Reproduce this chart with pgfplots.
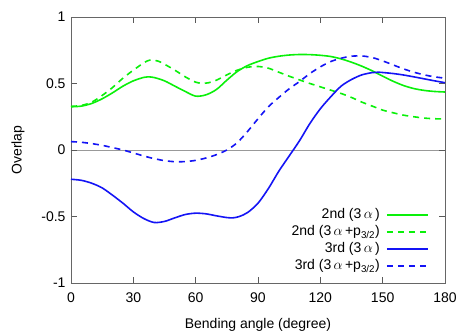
\documentclass[border=0pt]{standalone}
\usepackage{pgfplots}
\pgfplotsset{compat=1.18}
\usepackage{fontspec}
\setmainfont{Liberation Sans}
\definecolor{gg}{RGB}{10,240,10}
\definecolor{bb}{RGB}{20,20,245}
\begin{document}
\begin{tikzpicture}
\begin{axis}[
  scale only axis, width=374pt, height=266pt,
  xmin=0, xmax=180, ymin=-1, ymax=1,
  xtick={0,30,60,90,120,150,180},
  xticklabels={0,30,60,90,120,150,180},
  ytick={-1,-0.5,0,0.5,1},
  yticklabels={-1,-0.5,0,0.5,1},
  extra y ticks={0}, extra y tick labels={},
  extra y tick style={grid=major, major grid style={black!40, line width=0.9pt}},
  tick align=inside, major tick length=6pt,
  tick style={black!65, line width=0.6pt},
  axis line style={black!60, line width=0.9pt},
  tick label style={font=\fontsize{14}{16}\selectfont},
  label style={font=\fontsize{14}{16}\selectfont},
  xlabel={Bending angle (degree)},
  ylabel={Overlap},
  xticklabel style={yshift=-6pt},
  yticklabel style={xshift=-2pt},
  xlabel style={yshift=-9pt},
  ylabel style={yshift=10pt},
  legend cell align=right,
  legend plot pos=right,
  legend style={draw=none, fill=none, inner sep=0pt, at={(0.957,0.283)}, anchor=north east,
    font=\fontsize{14}{16}\selectfont, row sep=2pt, column sep=6pt,
    nodes={inner sep=0pt, text height=11pt, text depth=4pt}},
  legend image code/.code={\draw[#1, line width=1.9pt] (0pt,0.25pt) -- (41pt,0.25pt);},
]
\addplot[gg, line width=1.6pt, smooth] coordinates {
(0,0.325)(5,0.33)(10,0.35)(15,0.385)(20,0.43)(25,0.48)(30,0.52)(35,0.546)(37,0.55)(40,0.545)(45,0.52)(50,0.48)(55,0.44)(60,0.405)(65,0.415)(70,0.455)(75,0.525)(80,0.59)(85,0.635)(90,0.665)(95,0.69)(100,0.705)(105,0.714)(110,0.718)(115,0.717)(120,0.712)(125,0.703)(130,0.685)(135,0.66)(140,0.63)(145,0.595)(150,0.555)(155,0.517)(160,0.485)(165,0.462)(170,0.448)(175,0.44)(180,0.436)};
\addlegendentry{2nd (3\,$\alpha$\,)}
\addplot[gg, line width=1.6pt, smooth, dash pattern=on 6pt off 5pt] coordinates {
(0,0.328)(5,0.335)(10,0.36)(15,0.41)(20,0.47)(25,0.54)(30,0.60)(35,0.655)(38,0.676)(42,0.668)(45,0.645)(50,0.60)(55,0.55)(60,0.51)(63,0.502)(66,0.505)(70,0.525)(75,0.565)(80,0.60)(85,0.622)(90,0.628)(95,0.615)(100,0.585)(105,0.555)(110,0.527)(115,0.50)(120,0.475)(125,0.45)(130,0.425)(135,0.395)(140,0.36)(145,0.33)(150,0.30)(155,0.28)(160,0.262)(165,0.25)(170,0.24)(175,0.235)(180,0.233)};
\addlegendentry{2nd (3\,$\alpha$\,+p\textsubscript{3/2})}
\addplot[bb, line width=1.6pt, smooth] coordinates {
(0,-0.22)(5,-0.228)(10,-0.25)(15,-0.285)(20,-0.34)(25,-0.40)(30,-0.465)(35,-0.515)(40,-0.545)(45,-0.537)(50,-0.51)(55,-0.485)(60,-0.475)(65,-0.48)(70,-0.495)(75,-0.508)(78,-0.51)(81,-0.50)(85,-0.47)(90,-0.40)(95,-0.29)(100,-0.16)(105,-0.045)(110,0.07)(115,0.20)(120,0.31)(125,0.40)(130,0.48)(135,0.53)(140,0.565)(145,0.582)(148,0.585)(155,0.575)(160,0.564)(165,0.55)(170,0.535)(175,0.52)(180,0.506)};
\addlegendentry{3rd (3\,$\alpha$\,)}
\addplot[bb, line width=1.6pt, smooth, dash pattern=on 6pt off 5pt] coordinates {
(0,0.063)(5,0.058)(10,0.048)(15,0.035)(20,0.018)(25,0.0)(30,-0.022)(35,-0.045)(40,-0.065)(45,-0.08)(50,-0.088)(55,-0.087)(60,-0.078)(65,-0.06)(70,-0.035)(75,0.0)(80,0.055)(85,0.14)(90,0.235)(95,0.325)(100,0.395)(105,0.46)(110,0.515)(115,0.575)(120,0.625)(125,0.665)(130,0.69)(135,0.705)(140,0.707)(145,0.695)(150,0.67)(155,0.64)(160,0.61)(165,0.585)(170,0.565)(175,0.55)(180,0.54)};
\addlegendentry{3rd (3\,$\alpha$\,+p\textsubscript{3/2})}
\coordinate (sw) at (rel axis cs:0,0);
\coordinate (ne) at (rel axis cs:1,1);
\end{axis}
\pgfresetboundingbox
\path ([shift={(-71pt,-52pt)}]sw) rectangle ([shift={(24pt,17pt)}]ne);
\end{tikzpicture}
\end{document}
